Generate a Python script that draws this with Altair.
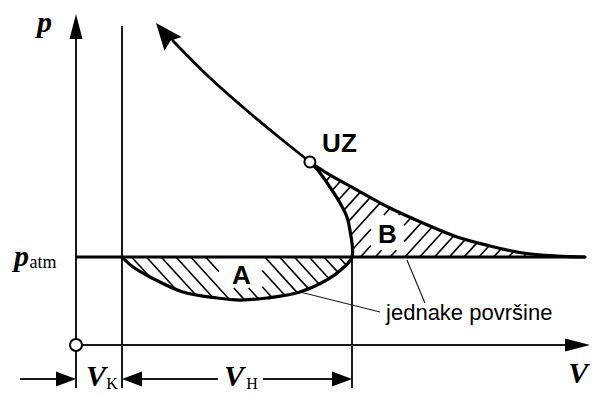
import numpy as np
import pandas as pd
import altair as alt

# ------------------------------------------------------------------
# Diagram values (V in units with V_K = 2, p in units of p_atm)
# ------------------------------------------------------------------
V_K = 2.0
V_H = 10.0
P_ATM = 1.0

# intake line: TDC -> under p_atm (area A) -> BDC -> up to UZ
loop_V = [2.00, 2.48, 3.22, 4.65, 6.13, 7.13, 8.30, 9.74, 10.91, 11.61, 12.00,
          11.91, 11.78, 11.48, 11.04, 10.61, 10.17]
loop_p = [1.000, 0.886, 0.773, 0.602, 0.534, 0.511, 0.534, 0.602, 0.739, 0.875, 1.000,
          1.307, 1.455, 1.614, 1.795, 1.955, 2.080]
BDC_INDEX = 10
# compression line from UZ (with arrow)
comp_V = [10.17, 8.87, 7.35, 5.83, 4.22]
comp_p = [2.080, 2.352, 2.682, 3.034, 3.455]
comp_tip = (3.48, 3.66)
# same polytrope continued below UZ (upper border of area B)
ext_V = [10.17, 11.04, 12.22, 13.65, 15.09, 16.57, 18.00, 19.43, 20.91, 22.13]
ext_p = [2.080, 1.932, 1.761, 1.557, 1.386, 1.227, 1.125, 1.045, 1.011, 1.000]
UZ = (10.17, 2.08)

# axes / construction lines
P_TOP = 3.76          # tip of p axis
V_RIGHT = 22.35       # tip of V axis
V_LINE_TOP = 3.625    # top of the V_K line
DIM_P = -0.386        # level of the dimension line
LOW_P = -0.489        # lower end of the vertical lines

# label texts
lab_p = "p"
lab_atm = "atm"
lab_V = "V"
lab_K = "K"
lab_H = "H"
lab_UZ = "UZ"
lab_A = "A"
lab_B = "B"
lab_eq = "jednake površine"

# ------------------------------------------------------------------
# Layout: page pixels -> data units
# ------------------------------------------------------------------
W, H = 582, 384
X0, Y0 = 68.0, 337.0        # chart-pixel position of the origin
KX, KY = 23.0, 88.0         # pixels per unit
xdom = [-X0 / KX, (W - X0) / KX]
ydom = [-(H - Y0) / KY, Y0 / KY]
xs = alt.Scale(domain=xdom, nice=False, zero=False)
ys = alt.Scale(domain=ydom, nice=False, zero=False)


def to_px(V, p):
    return X0 + KX * np.asarray(V, float), Y0 - KY * np.asarray(p, float)


def from_px(x, y):
    return (np.asarray(x) - X0) / KX, (Y0 - np.asarray(y)) / KY


def catmull(pts, n=16):
    pts = np.asarray(pts, float)
    P = np.vstack([pts[0] * 2 - pts[1], pts, pts[-1] * 2 - pts[-2]])
    out = []
    for i in range(1, len(P) - 2):
        p0, p1, p2, p3 = P[i - 1], P[i], P[i + 1], P[i + 2]
        for t in np.linspace(0, 1, n, endpoint=False):
            t2, t3 = t * t, t * t * t
            out.append(0.5 * (2 * p1 + (-p0 + p2) * t + (2 * p0 - 5 * p1 + 4 * p2 - p3) * t2
                              + (-p0 + 3 * p1 - 3 * p2 + p3) * t3))
    out.append(pts[-1])
    return np.array(out)


def pip(px, py, poly):
    inside = np.zeros(px.shape, dtype=bool)
    n = len(poly)
    for i in range(n):
        x1, y1 = poly[i]
        x2, y2 = poly[(i + 1) % n]
        cond = (y1 > py) != (y2 > py)
        with np.errstate(divide="ignore", invalid="ignore"):
            xint = x1 + (py - y1) * (x2 - x1) / (y2 - y1)
        inside ^= cond & (px < xint)
    return inside


def hatch(poly, slope, spacing, ref, box):
    bx0, by0 = to_px(box[0], box[3])
    bx1, by1 = to_px(box[1], box[2])
    cvals = poly[:, 1] - slope * poly[:, 0]
    step = spacing * abs(slope)
    c_ref = ref[1] - slope * ref[0]
    k0 = int(np.floor((cvals.min() - c_ref) / step)) - 1
    k1 = int(np.ceil((cvals.max() - c_ref) / step)) + 1
    xx = np.arange(poly[:, 0].min() - 2, poly[:, 0].max() + 2, 0.2)
    segs = []
    for k in range(k0, k1 + 1):
        c = c_ref + k * step
        yy = slope * xx + c
        ins = pip(xx, yy, poly)
        ins &= ~((xx > bx0) & (xx < bx1) & (yy > by0) & (yy < by1))
        d = np.diff(np.concatenate([[0], ins.astype(int), [0]]))
        starts = np.where(d == 1)[0]
        ends = np.where(d == -1)[0] - 1
        for s, e in zip(starts, ends):
            if e - s > 6:
                segs.append((xx[s], yy[s], xx[e], yy[e]))
    segs = np.array(segs)
    V1, p1 = from_px(segs[:, 0], segs[:, 1])
    V2, p2 = from_px(segs[:, 2], segs[:, 3])
    return pd.DataFrame({"V": V1, "p": p1, "V2": V2, "p2": p2})


# polygons for areas A and B (pixel space)
loop_px = np.column_stack(to_px(loop_V, loop_p))
ext_px = np.column_stack(to_px(ext_V, ext_p))
N = 16
loop_d = catmull(loop_px, N)
ext_d = catmull(ext_px, N)
polyA = loop_d[: BDC_INDEX * N + 1]
polyB = np.vstack([loop_d[BDC_INDEX * N:], ext_d[1:]])

boxA = (6.22, 8.09, 0.648, 1.2)
boxB = (12.83, 14.26, 1.08, 1.477)
hA = hatch(polyA, 1.1, 14.8, to_px(4.348, 1.0), boxA)
hB = hatch(polyB, -1.1, 14.8, to_px(14.3, 1.0), boxB)
hatch_df = pd.concat([hA, hB], ignore_index=True)

X = lambda f="V": alt.X(f"{f}:Q", scale=xs, axis=None)
Y = lambda f="p": alt.Y(f"{f}:Q", scale=ys, axis=None)


def rules(df, w, color="black"):
    return alt.Chart(df).mark_rule(strokeWidth=w, color=color, strokeCap="butt").encode(
        x=X(), x2=alt.X2("V2:Q"), y=Y(), y2=alt.Y2("p2:Q"))


def curve(Vs, ps, w):
    df = pd.DataFrame({"V": Vs, "p": ps, "i": range(len(Vs))})
    return alt.Chart(df).mark_line(interpolate="catmull-rom", strokeWidth=w, color="black",
                                   strokeCap="round", strokeJoin="round").encode(
        x=X(), y=Y(), order=alt.Order("i:Q"))


hatch_layer = rules(hatch_df, 1.6)

axes_df = pd.DataFrame({
    "V": [0.0, 0.0, V_K, V_K + V_H],
    "p": [LOW_P, 0.0, LOW_P, LOW_P],
    "V2": [0.0, V_RIGHT - 0.8, V_K, V_K + V_H],
    "p2": [P_TOP - 0.26, 0.0, V_LINE_TOP, P_ATM],
})
axes_layer = rules(axes_df, 2, "#1a1a1a")

patm_df = pd.DataFrame({"V": [0.0], "p": [P_ATM], "V2": [ext_V[-1]], "p2": [P_ATM]})
patm_layer = rules(patm_df, 3)

dim_df = pd.DataFrame({
    "V": [-2.43, V_K + 0.6, 8.13],
    "p": [DIM_P] * 3,
    "V2": [-0.6, 6.17, V_K + V_H - 0.6],
    "p2": [DIM_P] * 3,
})
dim_layer = rules(dim_df, 2, "#1a1a1a")

leader_df = pd.DataFrame({"V": [9.74, 14.39], "p": [0.602, 0.966],
                          "V2": [13.22, 15.17], "p2": [0.375, 0.477]})
leader_layer = rules(leader_df, 1.2, "#222222")

loop_layer = curve(loop_V, loop_p, 3.2)
comp_layer = curve(comp_V, comp_p, 2.8)
ext_layer = curve(ext_V, ext_p, 3.2)

circ_df = pd.DataFrame({"V": [0.0, UZ[0]], "p": [0.0, UZ[1]], "s": [144, 121]})
circ_layer = alt.Chart(circ_df).mark_point(shape="circle", filled=False, fill="white",
                                           stroke="black", strokeWidth=2, opacity=1).encode(
    x=X(), y=Y(), size=alt.Size("s:Q", scale=None))


def heads(df, path):
    return alt.Chart(df).mark_point(shape=path, filled=True, color="black", opacity=1,
                                    size=4, strokeWidth=0).encode(
        x=X(), y=Y(), angle=alt.Angle("a:Q", scale=None))


axis_heads = heads(pd.DataFrame({"V": [0.0, V_RIGHT], "p": [P_TOP, 0.0], "a": [0, 90]}),
                   "M0,0L6.5,25L-6.5,25Z")
dim_heads = heads(pd.DataFrame({"V": [0.0, V_K, V_K + V_H], "p": [DIM_P] * 3, "a": [90, 270, 90]}),
                  "M0,0L7.5,20L-7.5,20Z")
comp_head = heads(pd.DataFrame({"V": [comp_tip[0]], "p": [comp_tip[1]], "a": [321]}),
                  "M0,0L11,27L0,23L-11,27Z")


def texts(df, **kw):
    base = dict(align="left", baseline="alphabetic", color="black")
    base.update(kw)
    return alt.Chart(df).mark_text(**base).encode(x=X(), y=Y(), text="t:N")


serif_big = texts(pd.DataFrame({
    "V": [-1.70, -2.70, 0.43, 6.43, 21.40],
    "p": [3.56, 0.898, -0.466, -0.466, -0.432],
    "t": [lab_p, lab_p, lab_V, lab_V, lab_V]}),
    font="Liberation Serif", fontSize=30, fontStyle="italic", fontWeight="bold")
serif_sub_atm = texts(pd.DataFrame({"V": [-2.02], "p": [0.875], "t": [lab_atm]}),
                      font="Liberation Serif", fontSize=18)
serif_sub = texts(pd.DataFrame({"V": [1.32, 7.40], "p": [-0.50, -0.50], "t": [lab_K, lab_H]}),
                  font="Liberation Serif", fontSize=16)
sans_bold = texts(pd.DataFrame({
    "V": [10.7, 6.78, 13.13], "p": [2.19, 0.693, 1.159], "t": [lab_UZ, lab_A, lab_B]}),
    font="Liberation Sans", fontSize=26, fontWeight="bold")
sans_note = texts(pd.DataFrame({"V": [13.48], "p": [0.284], "t": [lab_eq]}),
                  font="Liberation Sans", fontSize=22)

chart = alt.layer(
    hatch_layer, axes_layer, dim_layer, leader_layer, patm_layer,
    loop_layer, ext_layer, comp_layer,
    axis_heads, dim_heads, comp_head, circ_layer,
    serif_big, serif_sub_atm, serif_sub, sans_bold, sans_note,
).properties(
    width=W, height=H, padding=0, background="white",
    autosize=alt.AutoSizeParams(type="none"),
).configure_view(stroke=None)

chart.save("out.html", embed_options={"renderer": "svg", "actions": False})
